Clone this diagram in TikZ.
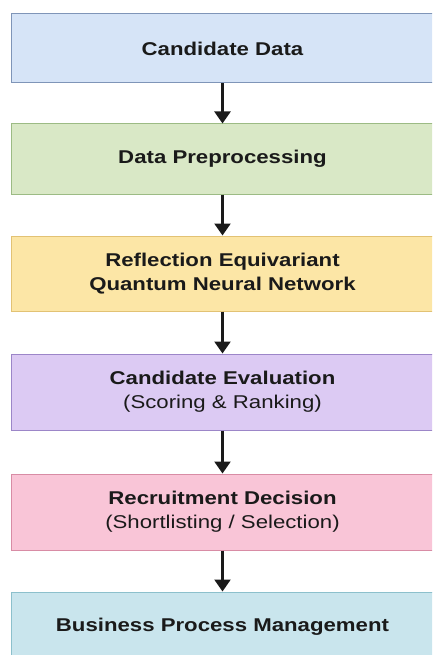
\documentclass[tikz,border=0pt]{standalone}
\usepackage{fontspec}
\setmainfont{Liberation Sans}[FakeStretch=1.2]
\usetikzlibrary{arrows.meta}

\definecolor{txt}{HTML}{1A1A1A}
\definecolor{blueF}{HTML}{D6E4F7}\definecolor{blueD}{HTML}{7F95B8}
\definecolor{greenF}{HTML}{D9E8C6}\definecolor{greenD}{HTML}{9CBB84}
\definecolor{yellowF}{HTML}{FCE6A6}\definecolor{yellowD}{HTML}{E2C274}
\definecolor{purpleF}{HTML}{DCCAF3}\definecolor{purpleD}{HTML}{9C86C8}
\definecolor{pinkF}{HTML}{F9C5D7}\definecolor{pinkD}{HTML}{D88CA5}
\definecolor{cyanF}{HTML}{C9E5ED}\definecolor{cyanD}{HTML}{8CC0CC}

\tikzset{
  stage/.style={rectangle, draw, line width=1pt, minimum width=423pt,
    align=center, text=txt, inner sep=0pt,
    font=\fontsize{18.5}{24}\selectfont},
  flow/.style={line width=2.4pt, draw=txt,
    -{Triangle[width=16pt,length=12pt]}}
}

\begin{document}
\begin{tikzpicture}[x=1pt,y=1pt]
  \useasboundingbox (0,0) rectangle (432,-655);
  \clip (0,0) rectangle (432,-655);

  \node[stage, fill=blueF, draw=blueD, minimum height=69pt]
    (data) at (222.5,-48.5) {\bfseries Candidate Data};
  \node[stage, fill=greenF, draw=greenD, minimum height=70pt]
    (prep) at (222.5,-159) {\bfseries Data Preprocessing};
  \node[stage, fill=yellowF, draw=yellowD, minimum height=75pt]
    (reqnn) at (222.5,-273.5) {\bfseries Reflection Equivariant\\\bfseries Quantum Neural Network};
  \node[stage, fill=purpleF, draw=purpleD, minimum height=76pt]
    (eval) at (222.5,-392) {\bfseries Candidate Evaluation\\(Scoring \& Ranking)};
  \node[stage, fill=pinkF, draw=pinkD, minimum height=76pt]
    (decide) at (222.5,-512) {\bfseries Recruitment Decision\\(Shortlisting / Selection)};
  \node[stage, fill=cyanF, draw=cyanD, minimum height=70pt]
    (bpm) at (222.5,-627) {\bfseries Business Process Management};

  \draw[flow] (data.south) -- (prep.north);
  \draw[flow] (prep.south) -- (reqnn.north);
  \draw[flow] (reqnn.south) -- (eval.north);
  \draw[flow] (eval.south) -- (decide.north);
  \draw[flow] (decide.south) -- (bpm.north);
\end{tikzpicture}
\end{document}
